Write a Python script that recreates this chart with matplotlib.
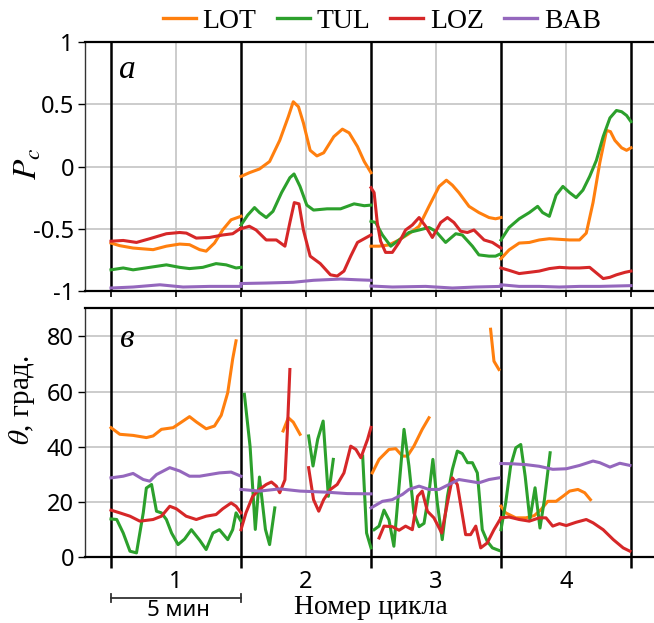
import numpy as np
import matplotlib
matplotlib.use("Agg")
import matplotlib.pyplot as plt
from matplotlib.lines import Line2D

plt.rcParams['mathtext.fontset'] = 'stix'

nan = np.nan

# ---------------- data (time in minutes, 5 min per cycle) ----------------
series_names = ["LOT", "TUL", "LOZ", "BAB"]
series_colors = ["#ff7f0e", "#2ca02c", "#d62728", "#9467bd"]
cycle_labels = ["1", "2", "3", "4"]
cycle_bounds = [0, 5, 10, 15, 20]
cycle_centers = [2.5, 7.5, 12.5, 17.5]
pc_ticks = [-1, -0.5, 0, 0.5, 1]
pc_ticklabels = ["-1", "-0.5", "0", "0.5", "1"]
th_ticks = [0, 20, 40, 60, 80]

# Panel a: Pc
LOT_PC_T = [0, 0.34, 0.85, 1.62, 2.13, 2.64, 3.02, 3.41, 3.66, 3.98, 4.30, 4.62, 5.0, nan,
            5.0, 5.32, 5.71, 6.10, 6.49, 6.82, 7.01, 7.21, 7.40, 7.66, 7.92, 8.18, 8.57, 8.90, 9.16, 9.48, 9.74, 10.0, nan,
            10.0, 10.31, 10.69, 11.08, 11.46, 11.85, 12.23, 12.62, 12.90, 13.13, 13.38, 13.77, 14.15, 14.54, 14.79, 15.0, nan,
            15.0, 15.31, 15.70, 16.09, 16.47, 16.86, 17.25, 17.64, 18.02, 18.28, 18.54, 18.80, 19.06, 19.21, 19.38, 19.64, 19.83, 20.0]
LOT_PC = [-0.615, -0.636, -0.655, -0.668, -0.64, -0.623, -0.628, -0.668, -0.68, -0.615, -0.508, -0.428, -0.40, nan,
          -0.08, -0.05, -0.02, 0.04, 0.21, 0.40, 0.52, 0.48, 0.35, 0.13, 0.085, 0.11, 0.24, 0.30, 0.27, 0.16, 0.04, -0.05, nan,
          -0.64, -0.64, -0.63, -0.59, -0.54, -0.48, -0.32, -0.16, -0.11, -0.15, -0.21, -0.32, -0.37, -0.41, -0.42, -0.41, nan,
          -0.74, -0.67, -0.615, -0.61, -0.59, -0.58, -0.585, -0.59, -0.59, -0.535, -0.29, 0.03, 0.29, 0.28, 0.21, 0.15, 0.13, 0.15]

TUL_PC_T = [0, 0.47, 0.85, 1.49, 2.13, 2.64, 3.02, 3.53, 4.04, 4.43, 4.81, 5.0, nan,
            5.0, 5.26, 5.52, 5.71, 5.97, 6.23, 6.56, 6.88, 7.04, 7.27, 7.53, 7.79, 8.31, 8.83, 9.35, 9.74, 10.0, nan,
            10.0, 10.18, 10.44, 10.76, 11.08, 11.46, 11.85, 12.23, 12.49, 12.87, 13.26, 13.51, 13.90, 14.15, 14.54, 14.79, 15.0, nan,
            15.0, 15.31, 15.70, 16.09, 16.41, 16.60, 16.86, 17.12, 17.38, 17.64, 17.89, 18.15, 18.41, 18.67, 18.93, 19.19, 19.44, 19.64, 19.83, 20.0]
TUL_PC = [-0.83, -0.815, -0.83, -0.81, -0.79, -0.81, -0.82, -0.81, -0.78, -0.79, -0.815, -0.81, nan,
          -0.47, -0.39, -0.33, -0.37, -0.41, -0.36, -0.21, -0.09, -0.06, -0.16, -0.31, -0.35, -0.34, -0.34, -0.30, -0.315, -0.31, nan,
          -0.44, -0.45, -0.55, -0.64, -0.59, -0.53, -0.51, -0.49, -0.52, -0.61, -0.54, -0.55, -0.64, -0.71, -0.72, -0.72, -0.70, nan,
          -0.59, -0.49, -0.42, -0.37, -0.32, -0.37, -0.40, -0.23, -0.16, -0.21, -0.25, -0.19, -0.08, 0.05, 0.24, 0.39, 0.45, 0.44, 0.41, 0.36]

LOZ_PC_T = [0, 0.47, 0.98, 1.49, 2.13, 2.64, 2.90, 3.28, 3.79, 4.30, 4.68, 5.0, nan,
            5.0, 5.32, 5.58, 5.97, 6.36, 6.69, 6.88, 7.05, 7.23, 7.40, 7.66, 8.05, 8.44, 8.70, 8.96, 9.22, 9.48, 9.74, 10.0, nan,
            10.0, 10.12, 10.24, 10.37, 10.56, 10.82, 11.08, 11.33, 11.59, 11.85, 12.10, 12.36, 12.68, 12.94, 13.19, 13.45, 13.71, 13.96, 14.35, 14.67, 15.0, nan,
            15.0, 15.31, 15.70, 16.09, 16.47, 16.86, 17.25, 17.64, 18.02, 18.41, 18.67, 18.93, 19.19, 19.44, 19.77, 20.0]
LOZ_PC = [-0.60, -0.594, -0.61, -0.58, -0.54, -0.53, -0.535, -0.575, -0.57, -0.55, -0.54, -0.495, nan,
          -0.50, -0.48, -0.51, -0.59, -0.59, -0.64, -0.45, -0.29, -0.30, -0.51, -0.72, -0.78, -0.87, -0.88, -0.84, -0.72, -0.61, -0.58, -0.55, nan,
          -0.17, -0.21, -0.45, -0.60, -0.69, -0.69, -0.61, -0.51, -0.47, -0.41, -0.48, -0.57, -0.45, -0.41, -0.45, -0.52, -0.53, -0.51, -0.59, -0.61, -0.655, nan,
          -0.815, -0.834, -0.86, -0.85, -0.84, -0.82, -0.81, -0.815, -0.815, -0.81, -0.855, -0.90, -0.89, -0.87, -0.85, -0.84]

BAB_PC_T = [0, 0.85, 1.88, 2.77, 3.79, 5.0, nan,
            5.0, 5.97, 7.01, 7.79, 8.83, 9.48, 10.0, nan,
            10.0, 10.82, 12.10, 13.13, 14.03, 15.0, nan,
            15.0, 15.70, 16.47, 17.25, 18.02, 18.80, 20.0]
BAB_PC = [-0.976, -0.968, -0.95, -0.968, -0.963, -0.963, nan,
          -0.94, -0.936, -0.93, -0.914, -0.904, -0.91, -0.914, nan,
          -0.96, -0.968, -0.963, -0.976, -0.968, -0.963, nan,
          -0.95, -0.963, -0.963, -0.968, -0.963, -0.963, -0.957]

# Panel b: theta, degrees
LOT_TH_T = [0, 0.34, 0.85, 1.36, 1.62, 1.94, 2.39, 2.77, 3.02, 3.28, 3.66, 3.98, 4.24, 4.49, 4.68, 4.81, nan,
            6.62, 6.82, 7.01, 7.27, nan,
            10.05, 10.31, 10.69, 10.95, 11.21, 11.40, 11.65, 11.97, 12.23, nan,
            14.60, 14.73, 14.92, nan,
            15.0, 15.18, 15.57, 15.96, 16.28, 16.54, 16.80, 17.12, 17.38, 17.64, 17.96, 18.22, 18.44]
LOT_TH = [46.9, 44.5, 44.1, 43.3, 43.9, 46.3, 46.9, 49.3, 50.9, 49.0, 46.5, 47.5, 51.4, 59.6, 71.8, 78.4, nan,
          45.7, 50.5, 48.9, 44.5, nan,
          30.5, 35.4, 39.0, 39.3, 36.6, 36.6, 40.2, 46.3, 50.5, nan,
          82.6, 71.0, 68.0, nan,
          18.4, 16.0, 14.2, 14.2, 15.0, 17.2, 20.2, 20.2, 22.0, 23.9, 24.5, 23.3, 20.8]

TUL_TH_T = [0, 0.22, 0.47, 0.73, 0.98, 1.24, 1.36, 1.56, 1.75, 1.94, 2.13, 2.33, 2.58, 2.83, 3.09, 3.41, 3.66, 3.92, 4.17, 4.49, 4.68, 4.81, 5.0, nan,
            5.13, 5.35, 5.55, 5.71, 5.94, 6.10, 6.30, nan,
            7.60, 7.77, 7.95, 8.16, 8.36, 8.55, nan,
            9.68, 9.83, 10.0, nan,
            10.12, 10.31, 10.50, 10.69, 10.88, 11.08, 11.27, 11.46, 11.65, 11.85, 12.04, 12.23, 12.38, 12.55, 12.74, 12.94,
            13.13, 13.32, 13.51, 13.71, 13.90, 14.09, 14.28, 14.47, 14.67, 14.92, nan,
            15.0, 15.18, 15.37, 15.57, 15.76, 15.93, 16.11, 16.31, 16.50, 16.67, 16.89]
TUL_TH = [13.8, 13.6, 8.7, 2.1, 1.5, 16.0, 25.0, 26.3, 16.6, 16.0, 13.6, 8.7, 4.5, 6.5, 9.9, 6.1, 2.7, 8.7, 9.9, 6.3, 9.9, 16.0, 13.0, nan,
          59.0, 40.0, 10.0, 29.0, 10.0, 4.5, 17.8, nan,
          43.9, 33.0, 42.7, 49.3, 22.0, 35.4, nan,
          36.6, 8.7, 3.3, nan,
          9.9, 11.2, 17.0, 13.5, 3.9, 25.7, 46.3, 33.0, 16.0, 11.0, 12.2, 23.3, 35.4, 19.6, 6.3, 22.0,
          31.8, 38.4, 37.5, 34.2, 34.2, 30.5, 9.9, 5.7, 3.3, 2.4, nan,
          9.9, 19.6, 33.0, 39.6, 40.8, 29.3, 13.6, 25.1, 10.5, 20.8, 37.8]

LOZ_TH_T = [0, 0.34, 0.73, 1.11, 1.62, 1.94, 2.26, 2.51, 2.89, 3.28, 3.66, 4.04, 4.30, 4.62, 4.81, 5.0, nan,
            5.0, 5.19, 5.45, 5.71, 5.97, 6.17, 6.36, 6.49, 6.69, 6.78, 6.88, nan,
            7.60, 7.79, 7.99, 8.18, 8.44, 8.70, 8.96, 9.22, 9.42, 9.61, 9.87, 10.0, nan,
            10.31, 10.50, 10.82, 11.08, 11.33, 11.59, 11.79, 11.97, 12.17, 12.42, 12.72, 12.94, 13.13, 13.32, 13.64, 13.83,
            14.03, 14.22, 14.47, 14.73, 15.0, nan,
            15.0, 15.31, 15.70, 16.09, 16.47, 16.73, 16.99, 17.25, 17.51, 17.89, 18.28, 18.54, 18.93, 19.32, 19.70, 19.96]
LOZ_TH = [17.0, 16.0, 14.8, 13.0, 13.6, 14.8, 18.4, 17.5, 14.8, 13.6, 14.8, 15.4, 17.5, 19.6, 18.4, 16.0, nan,
          9.9, 16.0, 22.0, 24.5, 26.3, 27.2, 25.7, 23.3, 28.0, 45.0, 68.0, nan,
          32.4, 20.8, 16.6, 20.8, 24.5, 26.3, 30.5, 40.2, 39.0, 36.0, 42.7, 47.0, nan,
          6.9, 11.2, 11.0, 9.7, 11.2, 9.9, 22.0, 23.9, 16.6, 14.2, 8.7, 19.6, 28.7, 26.3, 8.1, 8.1,
          11.2, 3.3, 5.1, 9.9, 14.2, nan,
          14.2, 14.5, 13.6, 13.0, 14.2, 14.2, 11.2, 12.1, 11.4, 12.6, 13.6, 12.4, 9.9, 6.3, 3.3, 2.1]

BAB_TH_T = [0, 0.47, 0.85, 1.24, 1.49, 1.75, 2.26, 2.64, 3.02, 3.41, 3.79, 4.17, 4.62, 5.0, nan,
            5.0, 5.71, 6.49, 7.27, 8.31, 9.09, 10.0, nan,
            10.0, 10.44, 10.82, 11.21, 11.46, 11.85, 12.23, 12.62, 13.00, 13.38, 13.77, 14.15, 14.54, 14.92, nan,
            15.0, 15.44, 15.96, 16.47, 16.99, 17.51, 18.02, 18.54, 18.80, 19.19, 19.57, 19.96]
BAB_TH = [28.7, 29.3, 30.3, 28.1, 27.5, 29.9, 32.4, 31.2, 29.3, 29.3, 29.9, 30.5, 30.8, 29.3, nan,
          24.5, 23.9, 24.7, 23.9, 23.5, 23.0, 22.9, nan,
          17.8, 20.2, 20.8, 22.7, 24.5, 25.7, 24.5, 24.5, 26.3, 28.1, 27.5, 26.9, 28.1, 28.7, nan,
          33.9, 33.8, 33.5, 32.9, 31.8, 32.0, 33.2, 34.8, 34.2, 32.6, 34.0, 33.2]

# ---------------- figure ----------------
W, H = 654, 623
fig = plt.figure(figsize=(W / 100, H / 100), dpi=100)

def px_axes(left, top, right, bottom):
    return [left / W, 1 - bottom / H, (right - left) / W, (bottom - top) / H]

ax1 = fig.add_axes(px_axes(85, 42, 654, 291))
ax2 = fig.add_axes(px_axes(85, 308, 654, 557))

TICK_FONT = dict(family=["Noto Sans", "DejaVu Sans"], size=17)
SERIF = ["Liberation Serif", "DejaVu Serif"]
grid_c = "#c4c4c4"

for ax in (ax1, ax2):
    ax.set_xlim(-1.0, 20.885)
    ax.spines['right'].set_visible(False)
    ax.spines['top'].set_linewidth(1.6)
    ax.spines['bottom'].set_linewidth(1.6)
    ax.spines['left'].set_linewidth(1.0)
    ax.spines['left'].set_color('#333333')
    for xc in cycle_centers:
        ax.axvline(xc, color=grid_c, lw=1.2, zorder=0.5)
    for xb in cycle_bounds:
        ax.axvline(xb, color='black', lw=1.8, zorder=1.5)
    ax.yaxis.grid(True, color=grid_c, lw=1.2, zorder=0.5)
    ax.set_axisbelow(True)
    ax.tick_params(axis='y', direction='out', length=5, width=1.0, pad=3, colors='black')

# Panel a
for t, v, c in [(LOT_PC_T, LOT_PC, series_colors[0]), (TUL_PC_T, TUL_PC, series_colors[1]),
                (LOZ_PC_T, LOZ_PC, series_colors[2]), (BAB_PC_T, BAB_PC, series_colors[3])]:
    ax1.plot(t, v, color=c, lw=2.2, zorder=2)
ax1.set_ylim(-1, 1)
ax1.set_yticks(pc_ticks)
ax1.set_yticklabels(pc_ticklabels, fontdict=TICK_FONT)
ax1.set_xticks(cycle_bounds)
ax1.set_xticks(cycle_centers, minor=True)
ax1.tick_params(axis='x', which='both', direction='out', length=4, width=1.2, labelbottom=False)

# Panel b
for t, v, c in [(LOT_TH_T, LOT_TH, series_colors[0]), (TUL_TH_T, TUL_TH, series_colors[1]),
                (LOZ_TH_T, LOZ_TH, series_colors[2]), (BAB_TH_T, BAB_TH, series_colors[3])]:
    ax2.plot(t, v, color=c, lw=2.2, zorder=2)
ax2.set_ylim(0, 90.3)
ax2.set_yticks(th_ticks)
ax2.set_yticklabels([str(v) for v in th_ticks], fontdict=TICK_FONT)
ax2.set_xticks(cycle_bounds)
ax2.set_xticklabels([])
ax2.set_xticks(cycle_centers, minor=True)
ax2.set_xticklabels(cycle_labels, minor=True, fontdict=TICK_FONT)
ax2.tick_params(axis='x', which='major', direction='out', length=8, width=1.8)
ax2.tick_params(axis='x', which='minor', length=0, pad=9)

# panel letters
ax1.text(0.074, 0.89, "a", transform=ax1.transAxes, ha='center', va='center',
         fontsize=24, style='italic', family=SERIF)
ax2.text(0.074, 0.876, "в", transform=ax2.transAxes, ha='center', va='center',
         fontsize=24, style='italic', family=SERIF)

# y labels
fig.text(27 / W, 1 - 164 / H, r"$P_c$", rotation=90, ha='center', va='center', fontsize=24)
fig.text(22 / W, 1 - 400 / H, r"$\theta$, град.", rotation=90, ha='center', va='center',
         fontsize=21, family=SERIF)

# scale bar and x label
trans = ax2.get_xaxis_transform()
ybar = -(598 - 557) / 249
ax2.plot([cycle_bounds[0], cycle_bounds[1]], [ybar, ybar], color='#333333', lw=1.3,
         transform=trans, clip_on=False)
for xb in cycle_bounds[:2]:
    ax2.plot([xb, xb], [ybar - 0.018, ybar + 0.018], color='#333333', lw=1.3,
             transform=trans, clip_on=False)
ax2.text(2.6, -(616 - 557) / 249, "5 мин", transform=trans, ha='center', va='baseline',
         family=["Noto Sans", "DejaVu Sans"], fontsize=16)
ax2.text(10.0, -(614 - 557) / 249, "Номер цикла", transform=trans, ha='center', va='baseline',
         family=SERIF, fontsize=20)

# legend
handles = [Line2D([0], [0], color=c, lw=2.4) for c in series_colors]
fig.legend(handles, series_names, loc='center', bbox_to_anchor=(382 / W, 1 - 21 / H),
           ncol=4, frameon=False, prop=dict(family=SERIF, size=20),
           handlelength=1.19, handletextpad=0.25, columnspacing=0.72, borderaxespad=0,
           borderpad=0)

fig.savefig("out.png", dpi=100)
